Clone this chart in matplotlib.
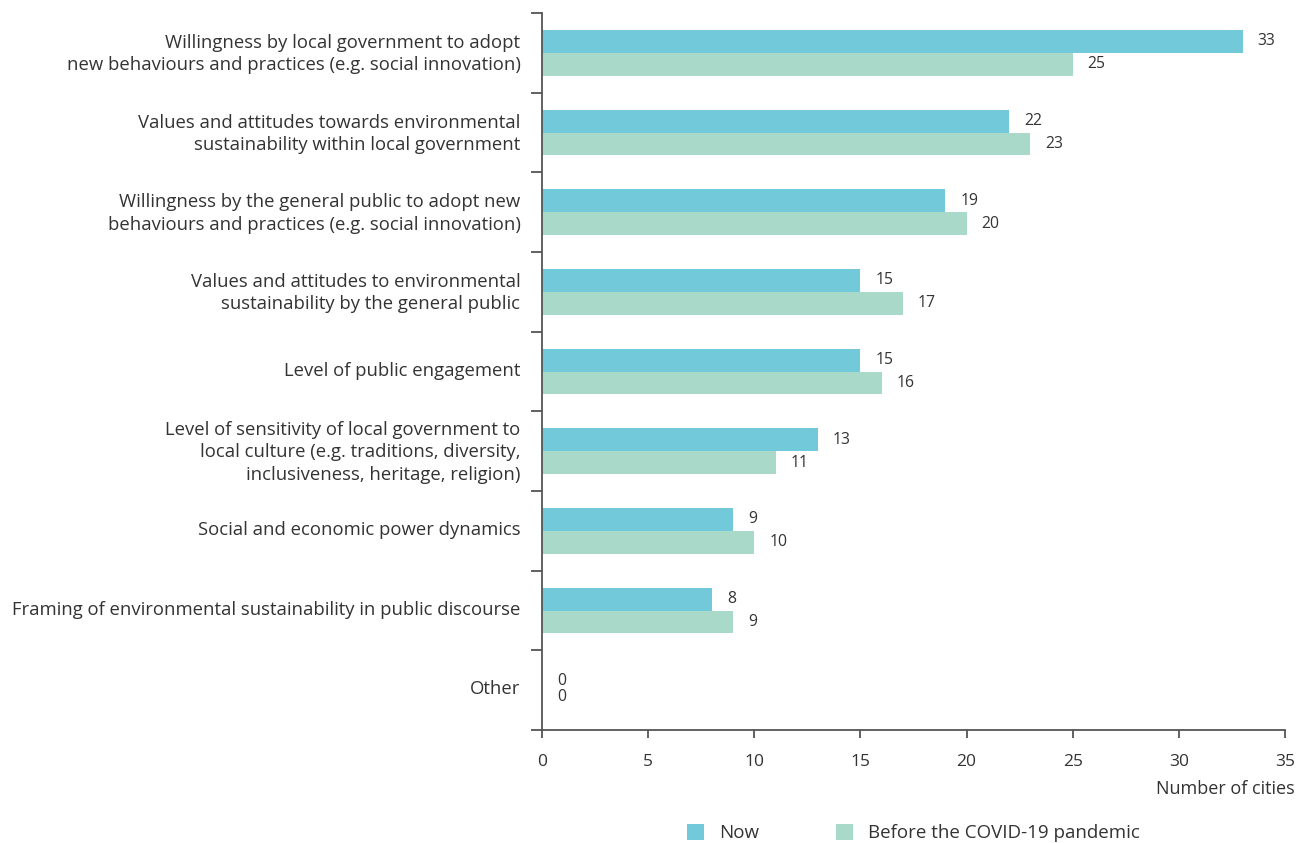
import matplotlib
matplotlib.use("Agg")
import matplotlib.pyplot as plt
import numpy as np

categories = [
    "Willingness by local government to adopt\nnew behaviours and practices (e.g. social innovation)",
    "Values and attitudes towards environmental\nsustainability within local government",
    "Willingness by the general public to adopt new\nbehaviours and practices (e.g. social innovation)",
    "Values and attitudes to environmental\nsustainability by the general public",
    "Level of public engagement",
    "Level of sensitivity of local government to\nlocal culture (e.g. traditions, diversity,\ninclusiveness, heritage, religion)",
    "Social and economic power dynamics",
    "Framing of environmental sustainability in public discourse",
    "Other",
]
now_values = [33, 22, 19, 15, 15, 13, 9, 8, 0]
before_values = [25, 23, 20, 17, 16, 11, 10, 9, 0]
series_names = ["Now", "Before the COVID-19 pandemic"]
x_ticks = [0, 5, 10, 15, 20, 25, 30, 35]

c_now = "#72C9DA"
c_before = "#A9D9C8"
grey = "#555555"
txt = "#333333"

plt.rcParams['font.family'] = ['Open Sans', 'DejaVu Sans']

fig = plt.figure(figsize=(13.05, 8.43), dpi=100)
ax = fig.add_axes([542/1305, 1-730/843, (1285-542)/1305, (730-13)/843])

n = len(categories)
y = np.arange(n)
h = 0.285
ax.barh(y - h/2, now_values, height=h, color=c_now, label=series_names[0])
ax.barh(y + h/2, before_values, height=h, color=c_before, label=series_names[1])

for i in range(n):
    dy_now = -2 if now_values[i] == 0 else 0
    dy_bef = 5 if before_values[i] == 0 else 0
    ax.annotate(str(now_values[i]), (now_values[i], y[i] - h/2), xytext=(15, dy_now),
                textcoords="offset pixels", va="center", ha="left", fontsize=11.3, color=txt)
    ax.annotate(str(before_values[i]), (before_values[i], y[i] + h/2), xytext=(15, dy_bef),
                textcoords="offset pixels", va="center", ha="left", fontsize=11.3, color=txt)

ax.set_xlim(0, 35)
ax.set_ylim(n - 0.5, -0.5)
ax.set_xticks(x_ticks)
ax.set_xticklabels([str(t) for t in x_ticks], fontsize=12.5, color=txt)

ax.set_yticks(np.arange(-0.5, n + 0.5, 1))
ax.set_yticklabels([])
ax.set_yticks(y - 0.035, minor=True)
ax.set_yticklabels(categories, minor=True, fontsize=13.3, color=txt, linespacing=1.3)
ax.tick_params(axis="y", which="minor", length=0, pad=15.5)
ax.tick_params(axis="y", which="major", length=8, width=1.3, color=grey)
ax.tick_params(axis="x", length=6, width=1.3, color=grey, pad=11)

for s in ["top", "right"]:
    ax.spines[s].set_visible(False)
for s in ["left", "bottom"]:
    ax.spines[s].set_color(grey)
    ax.spines[s].set_linewidth(1.3)

fig.text(1295/1305, 1-789/843, "Number of cities", ha="right", va="center", fontsize=13, color=txt)

handles, labels = ax.get_legend_handles_labels()
leg = fig.legend(handles, labels, loc="center", bbox_to_anchor=(913.5/1305, 1-833/843),
                 ncol=2, frameon=False, fontsize=13.5, handlelength=0.92, handleheight=0.92,
                 columnspacing=4.1, handletextpad=0.8, labelcolor=txt)

fig.savefig("out.png", dpi=100)
